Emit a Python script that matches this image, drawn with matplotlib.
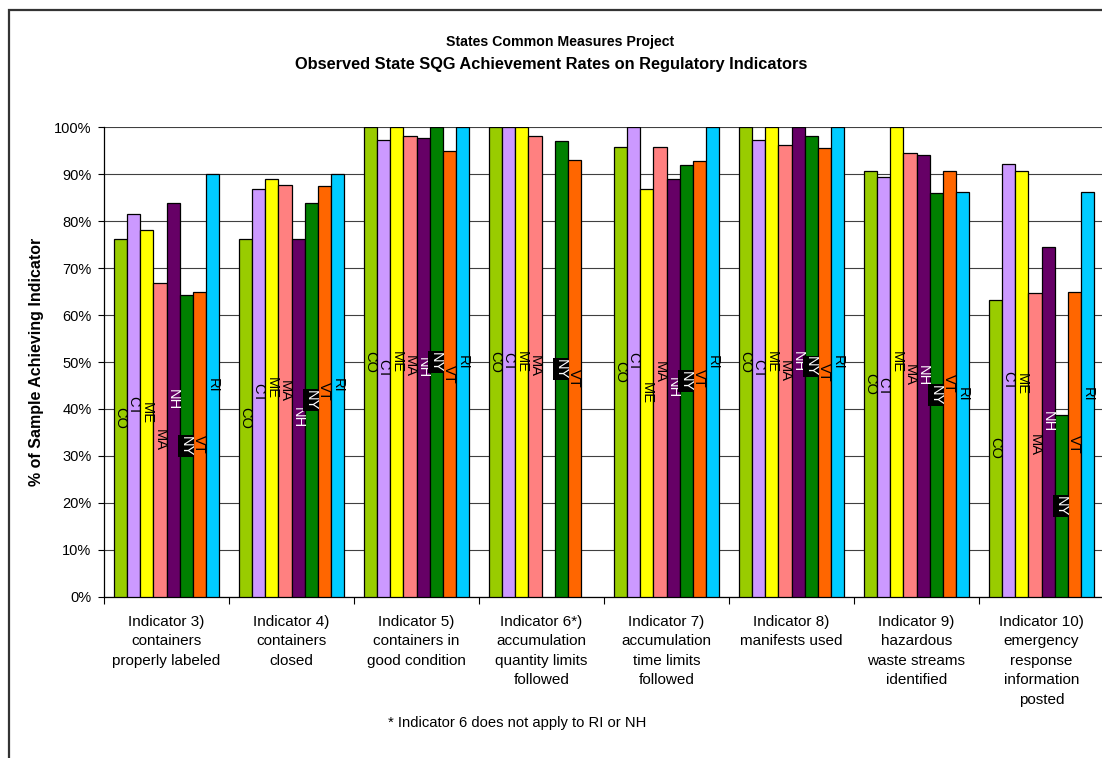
import numpy as np
import matplotlib
matplotlib.use('Agg')
import matplotlib.pyplot as plt
from matplotlib.patches import Rectangle
from matplotlib.ticker import PercentFormatter

plt.rcParams['font.family'] = ['Liberation Sans', 'DejaVu Sans']

# Indicator groups (x-axis)
indicators = [
    'Indicator 3)\ncontainers\nproperly labeled',
    'Indicator 4)\ncontainers\nclosed',
    'Indicator 5)\ncontainers in\ngood condition',
    'Indicator 6*)\naccumulation\nquantity limits\nfollowed',
    'Indicator 7)\naccumulation\ntime limits\nfollowed',
    'Indicator 8)\nmanifests used',
    'Indicator 9)\nhazardous\nwaste streams\nidentified',
    'Indicator 10)\nemergency\nresponse\ninformation\nposted',
]

states = ['CO', 'CT', 'ME', 'MA', 'NH', 'NY', 'VT', 'RI']
colors = ['#99CC00', '#CC99FF', '#FFFF00', '#FF8080',
          '#660066', '#008000', '#FF6600', '#00CCFF']

# % of sample achieving each indicator (nan = not applicable)
co = [76.3, 76.3, 100, 100, 95.9, 100, 90.7, 63.2]
ct = [81.5, 86.9, 97.2, 100, 100, 97.2, 89.4, 92.1]
me = [78.2, 89.0, 100, 100, 86.9, 100, 100, 90.7]
ma = [66.9, 87.8, 98.1, 98.1, 95.9, 96.3, 94.5, 64.8]
nh = [83.9, 76.1, 97.7, np.nan, 89.0, 100, 94.2, 74.6]
ny = [64.3, 83.9, 100, 97.0, 92.0, 98.1, 86.0, 38.7]
vt = [65.0, 87.4, 94.9, 93.1, 92.9, 95.5, 90.7, 65.0]
ri = [90, 90, 100, np.nan, 100, 100, 86.3, 86.3]
values = [co, ct, me, ma, nh, ny, vt, ri]

fig = plt.figure(figsize=(11.02, 7.58), dpi=100)
ax = fig.add_axes([104 / 1102, 1 - 596.7 / 758, 1000 / 1102, 469.4 / 758])

x = np.arange(len(indicators))
w = 0.105

for j, (st, col, vals) in enumerate(zip(states, colors, values)):
    vals = np.array(vals, dtype=float)
    pos = x + (j - 3.5) * w
    ok = ~np.isnan(vals)
    ax.bar(pos[ok], vals[ok], width=w, color=col, edgecolor='black',
           linewidth=0.9, zorder=3)
    for p, v in zip(pos[ok], vals[ok]):
        kw = dict(color='black')
        if st == 'NH':
            kw = dict(color='white')
        elif st == 'NY':
            kw = dict(color='white', bbox=dict(boxstyle='square,pad=0.05',
                                               fc='black', ec='none'))
        ax.text(p, v / 2, st, rotation=270, ha='center', va='center',
                fontsize=10.5, zorder=4, **kw)

ax.set_xlim(-0.5, len(indicators) - 0.5)
ax.set_ylim(0, 100)
ax.set_yticks(np.arange(0, 101, 10))
ax.yaxis.set_major_formatter(PercentFormatter(decimals=0))
ax.tick_params(axis='y', labelsize=10.5, length=4, width=0.8, pad=5)
ax.yaxis.grid(True, color='#404040', linewidth=0.8, zorder=0)
ax.set_axisbelow(True)

ax.set_xticks(x)
ax.set_xticklabels(indicators, fontsize=11, linespacing=1.5)
ax.tick_params(axis='x', length=0, pad=13)
ax.set_xticks(np.arange(-0.5, len(indicators)), minor=True)
ax.tick_params(axis='x', which='minor', length=5, width=0.8)

for s in ['top', 'right']:
    ax.spines[s].set_visible(False)
for s in ['left', 'bottom']:
    ax.spines[s].set_linewidth(0.9)

ax.set_ylabel('% of Sample Achieving Indicator', fontsize=11.5,
              fontweight='bold', labelpad=7)

fig.text(560 / 1102, 1 - 42 / 758, 'States Common Measures Project',
         ha='center', va='center', fontsize=10.2, fontweight='bold')
fig.text(551 / 1102, 1 - 65 / 758,
         'Observed State SQG Achievement Rates on Regulatory Indicators',
         ha='center', va='center', fontsize=11.8, fontweight='bold')
fig.text(517 / 1102, 1 - 723 / 758, '* Indicator 6 does not apply to RI or NH',
         ha='center', va='center', fontsize=10.6)

# chart frame
fig.patches.append(Rectangle((9 / 1102, -0.05), 1.1, 1 - 10 / 758 + 0.05,
                             transform=fig.transFigure, fill=False,
                             edgecolor='#333333', linewidth=1.6))

fig.savefig('out.png', dpi=100)
